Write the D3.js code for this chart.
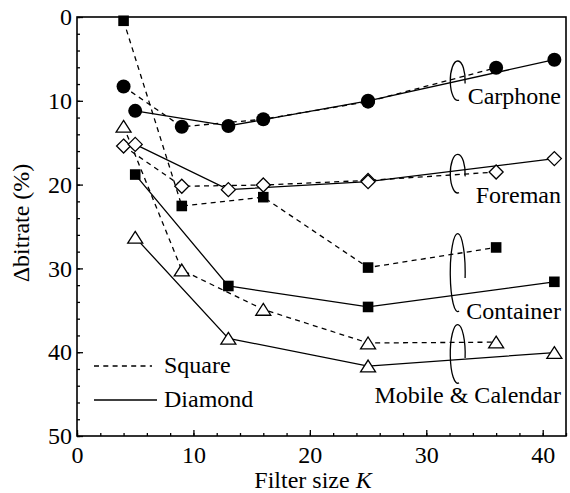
<!DOCTYPE html>
<html>
<head>
<meta charset="utf-8">
<script src="https://cdn.jsdelivr.net/npm/d3@7"></script>
<style>
  body { margin: 0; background: #fff; }
</style>
</head>
<body>
<svg id="chart" width="570" height="493"></svg>
<script>
// filter sizes (square / diamond shaped filters)
const squareK = [4, 9, 16, 25, 36];
const diamondK = [5, 13, 25, 41];

// delta bitrate (%) per sequence
const carphoneSquare = [8.3, 13.1, 12.2, 10.1, 6.05];
const carphoneDiamond = [11.2, 13.0, 10.0, 5.1];
const foremanSquare = [15.4, 20.2, 20.05, 19.5, 18.5];
const foremanDiamond = [15.2, 20.6, 19.65, 16.9];
const containerSquare = [0.45, 22.55, 21.5, 29.9, 27.5];
const containerDiamond = [18.8, 32.1, 34.6, 31.6];
const mobileSquare = [13.05, 30.2, 34.9, 38.9, 38.8];
const mobileDiamond = [26.3, 38.35, 41.65, 40.05];

const xTicks = [0, 10, 20, 30, 40];
const yTicks = [0, 10, 20, 30, 40, 50];

const sequences = [
  { name: 'Carphone', marker: 'circle', sq: carphoneSquare, di: carphoneDiamond, ell: [32.7, 7.6, 2.35] },
  { name: 'Foreman', marker: 'diamond', sq: foremanSquare, di: foremanDiamond, ell: [32.7, 18.7, 2.3] },
  { name: 'Container', marker: 'square', sq: containerSquare, di: containerDiamond, ell: [32.7, 30.5, 4.65] },
  { name: 'Mobile & Calendar', marker: 'triangle', sq: mobileSquare, di: mobileDiamond, ell: [32.7, 40.2, 3.5] }
];

const FONT = "'Liberation Serif'";
const FS = 24;

const svg = d3.select('#chart');
const margin = { top: 17, right: 4, bottom: 57, left: 77 };
const width = +svg.attr('width') - margin.left - margin.right;
const height = +svg.attr('height') - margin.top - margin.bottom;
const g = svg.append('g').attr('transform', 'translate(' + margin.left + ',' + margin.top + ')');

const x = d3.scaleLinear().domain([0, 42]).range([0, width]);
const y = d3.scaleLinear().domain([0, 50]).range([0, height]);

// minor ticks
g.append('g')
  .attr('transform', 'translate(0,' + height + ')')
  .call(d3.axisBottom(x).tickValues(d3.range(0, 43, 2)).tickSize(-3).tickFormat(''))
  .call(a => a.select('.domain').remove());
g.append('g')
  .call(d3.axisLeft(y).tickValues(d3.range(0, 51, 2)).tickSize(-3).tickFormat(''))
  .call(a => a.select('.domain').remove());

// major ticks
const xAxis = g.append('g')
  .attr('transform', 'translate(0,' + height + ')')
  .call(d3.axisBottom(x).tickValues(xTicks).tickSize(-6).tickPadding(10));
const yAxis = g.append('g')
  .call(d3.axisLeft(y).tickValues(yTicks).tickSize(-6).tickPadding(5));
[xAxis, yAxis].forEach(a => {
  a.select('.domain').remove();
  a.selectAll('text')
    .style('font-family', FONT)
    .attr('font-size', FS)
    .attr('fill', '#000');
});
g.selectAll('.tick line').attr('stroke', '#000').attr('stroke-width', 1.3);

// frame
g.append('rect')
  .attr('width', width).attr('height', height)
  .attr('fill', 'none').attr('stroke', '#000').attr('stroke-width', 1.6);

// axis titles
svg.append('text')
  .attr('transform', 'translate(29,223) rotate(-90)')
  .attr('text-anchor', 'middle')
  .style('font-family', FONT)
  .attr('font-size', FS)
  .text('Δbitrate (%)');
const xt = svg.append('text')
  .attr('x', 313).attr('y', 488)
  .attr('text-anchor', 'middle')
  .style('font-family', FONT)
  .attr('font-size', FS);
xt.append('tspan').text('Filter size ');
xt.append('tspan').style('font-style', 'italic').text('K');

// lines
const line = d3.line().x(d => x(d[0])).y(d => y(d[1]));
sequences.forEach(s => {
  g.append('path')
    .datum(d3.zip(squareK, s.sq))
    .attr('d', line)
    .attr('fill', 'none').attr('stroke', '#000').attr('stroke-width', 1.3)
    .attr('stroke-dasharray', '5,4.3');
  g.append('path')
    .datum(d3.zip(diamondK, s.di))
    .attr('d', line)
    .attr('fill', 'none').attr('stroke', '#000').attr('stroke-width', 1.3);
});

// markers
function markerPath(type) {
  if (type === 'circle') return d3.symbol(d3.symbolCircle, Math.PI * 49)();
  if (type === 'square') return 'M-5.3,-5.3H5.3V5.3H-5.3Z';
  if (type === 'diamond') return 'M0,-7L7,0L0,7L-7,0Z';
  return 'M0,-6L7.5,5.8H-7.5Z';
}
sequences.forEach(s => {
  const filled = s.marker === 'circle' || s.marker === 'square';
  const pts = d3.zip(squareK, s.sq).concat(d3.zip(diamondK, s.di));
  g.selectAll(null)
    .data(pts)
    .enter()
    .append('path')
    .attr('transform', d => 'translate(' + x(d[0]) + ',' + y(d[1]) + ')')
    .attr('d', markerPath(s.marker))
    .attr('fill', filled ? '#000' : '#fff')
    .attr('stroke', '#000')
    .attr('stroke-width', filled ? 0 : 1.3);
});

// grouping ellipses (open on the lower right)
const rx = x(0.64) - x(0);
sequences.forEach(s => {
  const cx = x(s.ell[0]), cy = y(s.ell[1]), ry = y(s.ell[2]) - y(0);
  const a0 = 8 * Math.PI / 180, a1 = 80 * Math.PI / 180;
  const p0 = [cx + rx * Math.cos(a0), cy + ry * Math.sin(a0)];
  const p1 = [cx + rx * Math.cos(a1), cy + ry * Math.sin(a1)];
  g.append('path')
    .attr('d', 'M' + p0 + 'A' + rx + ',' + ry + ' 0 1 0 ' + p1)
    .attr('fill', 'none').attr('stroke', '#000').attr('stroke-width', 1.3);
});

// sequence labels
const labelY = [104, 203, 319, 403];
sequences.forEach((s, i) => {
  svg.append('text')
    .attr('x', 561).attr('y', labelY[i])
    .attr('text-anchor', 'end')
    .style('font-family', FONT)
    .attr('font-size', FS)
    .text(s.name);
});

// legend
const legend = [
  { label: 'Square', dash: '5,4.3', y: 366, x2: 152 },
  { label: 'Diamond', dash: null, y: 400, x2: 157 }
];
legend.forEach(l => {
  svg.append('line')
    .attr('x1', 94).attr('x2', l.x2).attr('y1', l.y).attr('y2', l.y)
    .attr('stroke', '#000').attr('stroke-width', 1.3)
    .attr('stroke-dasharray', l.dash);
  svg.append('text')
    .attr('x', 164).attr('y', l.y + 7)
    .style('font-family', FONT)
    .attr('font-size', FS)
    .text(l.label);
});
</script>
</body>
</html>
